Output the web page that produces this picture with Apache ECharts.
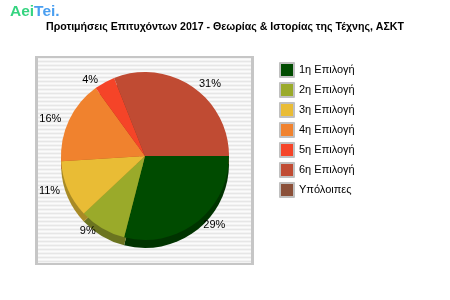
<!DOCTYPE html>
<html><head><meta charset="utf-8">
<script src="https://cdn.jsdelivr.net/npm/echarts@6/dist/echarts.min.js"></script>
<style>html,body{margin:0;padding:0;background:#fff}#c{width:450px;height:300px}</style>
</head><body><div id="c"></div>
<script>
var titleText = 'Προτιμήσεις Επιτυχόντων 2017 - Θεωρίας & Ιστορίας της Τέχνης, ΑΣΚΤ';
var categories = ['1η Επιλογή','2η Επιλογή','3η Επιλογή','4η Επιλογή','5η Επιλογή','6η Επιλογή','Υπόλοιπες'];
var values = [29, 9, 11, 16, 4, 31, 0];
var colors = ['#004B00','#9AAA2A','#E9BC35','#F0822E','#F54428','#C04B33','#8B5039'];
var sideColors = ['#003300','#6B7420','#A88A25','#A85A20','#AA3018','#853424','#5F3727'];

var pc = document.createElement('canvas');
pc.width = 4; pc.height = 4;
var g = pc.getContext('2d');
var stripe = ['#f3f3f3','#e6e6e6','#f3f3f3','#fbfbfb'];
for (var i = 0; i < 4; i++) { g.fillStyle = stripe[i]; g.fillRect(0, i, 4, 1); }

var chart = echarts.init(document.getElementById('c'), null, {renderer:'canvas'});
var ff = '"Liberation Sans", Arial, sans-serif';
chart.setOption({
  animation: false,
  color: colors,
  title: {
    text: titleText, left: 'center', top: 17,
    textStyle: {fontFamily: ff, fontSize: 10.6, fontWeight: 'bold', color: '#000'}
  },
  graphic: [
    {type:'text', left: 10, top: 4, style: {
      text: '{a|Aei}{b|Tei.}',
      rich: {
        a: {fontFamily: ff, fontSize: 15.5, fontWeight: 'bold', fill: '#35d480'},
        b: {fontFamily: ff, fontSize: 15.5, fontWeight: 'bold', fill: '#4a9ff0'}
      }
    }},
    {type:'rect', z: -10, shape: {x: 35, y: 56, width: 219, height: 209}, style: {fill: '#c6c6c6'}},
    {type:'rect', z: -9, shape: {x: 38, y: 58, width: 213, height: 205}, style: {fill: {image: pc, repeat: 'repeat'}}}
  ],
  legend: {
    orient: 'vertical', left: 279, top: 62, padding: 0,
    itemWidth: 14, itemHeight: 14, itemGap: 4,
    icon: 'rect',
    itemStyle: {borderColor: '#c0c0c0', borderWidth: 2},
    textStyle: {fontFamily: ff, fontSize: 11, color: '#000'},
    data: categories
  },
  series: [
    {
      type: 'pie', silent: true, z: 1,
      center: [145, 164], radius: 84,
      startAngle: 0, clockwise: true,
      label: {show: false}, labelLine: {show: false},
      legendHoverLink: false,
      data: categories.map(function(c, i){ return {name: c + ' ', value: values[i], itemStyle: {color: sideColors[i]}}; }),
      tooltip: {show:false}
    },
    {
      type: 'pie', z: 2,
      center: [145, 156], radius: 84,
      startAngle: 0, clockwise: true,
      avoidLabelOverlap: false,
      label: {
        show: true, position: 'outside',
        formatter: function(p){ return p.value > 0 ? Math.round(p.percent) + '%' : ''; },
        fontFamily: ff, fontSize: 11, color: '#000'
      },
      labelLine: {show: false, length: 3, length2: 0},
      data: categories.map(function(c, i){ return {name: c, value: values[i]}; })
    }
  ]
});
</script>
</body></html>
